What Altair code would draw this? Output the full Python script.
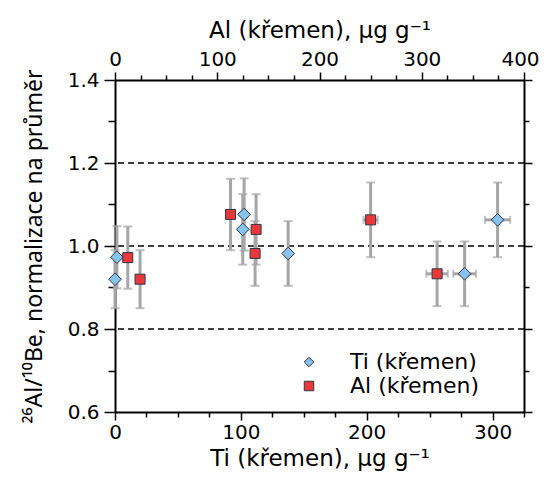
import altair as alt
import pandas as pd

FONT = "DejaVu Sans"
YFONT = "Noto Sans"

# Ti (quartz) series - bottom axis
ti_x = [0, 1.5, 102.6, 101.5, 137.6, 277.8, 304]
ti_y = [0.92, 0.973, 1.076, 1.04, 0.982, 0.933, 1.063]
ti_err = [0.07, 0.075, 0.087, 0.085, 0.078, 0.078, 0.09]
ti_xerr = [0, 0, 0, 0, 0, 9, 10]

# Al (quartz) series - top axis
al_x = [12.5, 24.5, 113, 138, 137, 250, 315]
al_y = [0.972, 0.92, 1.076, 1.04, 0.982, 1.063, 0.933]
al_err = [0.075, 0.07, 0.086, 0.085, 0.078, 0.09, 0.078]
al_xerr = [0, 0, 0, 0, 0, 7, 10.5]

grid_y = [0.8, 1.0, 1.2]
ti_ticks = [0, 25, 50, 75, 100, 125, 150, 175, 200, 225, 250, 275, 300, 325]
al_ticks = [0, 25, 50, 75, 100, 125, 150, 175, 200, 225, 250, 275, 300, 325, 350, 375, 400]
y_ticks = [0.6, 0.7, 0.8, 0.9, 1.0, 1.1, 1.2, 1.3, 1.4]

TI_NAME = "Ti (křemen)"
AL_NAME = "Al (křemen)"
BLUE = "#86c4ee"
RED = "#e8383a"
EDGE = "#333344"
ERR = "#a6a6a6"


def frame(xs, ys, es, xes, name):
    return pd.DataFrame({
        "x": xs, "y": ys,
        "lo": [a - b for a, b in zip(ys, es)],
        "hi": [a + b for a, b in zip(ys, es)],
        "xlo": [a - b for a, b in zip(xs, xes)],
        "xhi": [a + b for a, b in zip(xs, xes)],
        "xerr": xes,
        "series": name,
    })


ti_df = frame(ti_x, ti_y, ti_err, ti_xerr, TI_NAME)
al_df = frame(al_x, al_y, al_err, al_xerr, AL_NAME)
grid_df = pd.DataFrame({"g": grid_y})

ys = alt.Scale(domain=[0.6, 1.4], nice=False, zero=False)
ti_scale = alt.Scale(domain=[0, 325], nice=False, zero=False)
al_scale = alt.Scale(domain=[0, 400], nice=False, zero=False)

common = dict(
    grid=False, domain=True, domainColor="black", domainWidth=2,
    tickColor="black", tickWidth=1.5, labelColor="black", titleColor="black",
    labelFont=FONT, titleFont=FONT, labelFontSize=20, titleFontSize=23,
    titleFontWeight="normal", labelOverlap=False, labelFlush=False,
    titleBaseline="alphabetic",
)

ti_axis = alt.Axis(
    orient="bottom", values=ti_ticks, title="Ti (křemen), µg g⁻¹",
    labelExpr="datum.value % 100 === 0 ? datum.label : ''",
    tickSize={"condition": {"test": "datum.value % 100 === 0", "value": 8}, "value": 5},
    labelPadding=2, titleY=53, **common,
)
al_axis = alt.Axis(
    orient="top", values=al_ticks, title="Al (křemen), µg g⁻¹",
    labelExpr="datum.value % 100 === 0 ? datum.label : ''",
    labelOffset={"condition": {"test": "datum.value === 400", "value": -4}, "value": 0},
    tickSize={"condition": {"test": "datum.value % 100 === 0", "value": 8}, "value": 5},
    labelPadding=3, titleY=-43, **common,
)
yl_common = dict(common)
yl_common.update(titleFont=YFONT, titleFontSize=23)
yl_axis = alt.Axis(
    orient="left", values=y_ticks, title="²⁶Al/¹⁰Be, normalizace na průměr",
    labelExpr="round(datum.value * 10) % 2 === 0 ? format(datum.value, '.1f') : ''",
    tickSize={"condition": {"test": "round(datum.value * 10) % 2 === 0", "value": 11}, "value": 7},
    labelPadding=5, titleX=-74, **yl_common,
)
yr_axis = alt.Axis(
    orient="right", values=y_ticks, title=None, labels=False,
    tickSize={"condition": {"test": "round(datum.value * 10) % 2 === 0", "value": 8}, "value": 5},
    grid=False, domain=True, domainColor="black", domainWidth=2,
    tickColor="black", tickWidth=1.5,
)

legend = alt.Legend(
    orient="none", legendX=183, legendY=271, title=None,
    labelFont=FONT, labelFontSize=22, labelColor="black",
    symbolSize=90, symbolStrokeColor=EDGE, symbolStrokeWidth=1,
    labelOffset=30, rowPadding=2, padding=0,
)
color = alt.Color("series:N", scale=alt.Scale(domain=[TI_NAME, AL_NAME], range=[BLUE, RED]), legend=legend)
shape = alt.Shape("series:N", scale=alt.Scale(domain=[TI_NAME, AL_NAME], range=["diamond", "square"]), legend=legend)


def group(df, xscale, xaxis, yaxis, size, include_grid):
    X = lambda f: alt.X(f"{f}:Q", scale=xscale, axis=xaxis, title=xaxis.title)
    Y = lambda f: alt.Y(f"{f}:Q", scale=ys, axis=yaxis, title=yaxis.title)
    base = alt.Chart(df)
    layers = []
    if include_grid:
        layers.append(
            alt.Chart(grid_df).mark_rule(color="black", strokeDash=[6, 4], strokeWidth=1.3)
            .encode(y=alt.Y("g:Q", scale=ys, axis=yaxis, title=yaxis.title))
        )
    layers += [
        base.mark_rule(color=ERR, strokeWidth=3).encode(x=X("x"), y=Y("lo"), y2="hi"),
        base.mark_tick(color=ERR, orient="horizontal", size=9, thickness=2).encode(x=X("x"), y=Y("lo")),
        base.mark_tick(color=ERR, orient="horizontal", size=9, thickness=2).encode(x=X("x"), y=Y("hi")),
        base.transform_filter("datum.xerr > 0").mark_rule(color=ERR, strokeWidth=3)
            .encode(x=X("xlo"), x2="xhi", y=Y("y")),
        base.transform_filter("datum.xerr > 0").mark_tick(color=ERR, orient="vertical", size=8, thickness=2)
            .encode(x=X("xlo"), y=Y("y")),
        base.transform_filter("datum.xerr > 0").mark_tick(color=ERR, orient="vertical", size=8, thickness=2)
            .encode(x=X("xhi"), y=Y("y")),
        base.mark_point(filled=True, opacity=1, size=size, stroke=EDGE, strokeWidth=1)
            .encode(x=X("x"), y=Y("y"), color=color, shape=shape),
    ]
    return alt.layer(*layers)


ti_group = group(ti_df, ti_scale, ti_axis, yl_axis, 160, True)
al_group = group(al_df, al_scale, al_axis, yr_axis, 100, False)

chart = (
    alt.layer(ti_group, al_group)
    .resolve_scale(x="independent", y="shared")
    .resolve_axis(x="independent", y="independent")
    .properties(
        width=409, height=332,
        autosize=alt.AutoSizeParams(type="none"),
        padding={"left": 107, "top": 72, "right": 15, "bottom": 59},
    )
    .configure_view(stroke="black", strokeWidth=2)
    .configure(background="white")
)

chart.save("out.html", embed_options={"renderer": "svg", "actions": False})
